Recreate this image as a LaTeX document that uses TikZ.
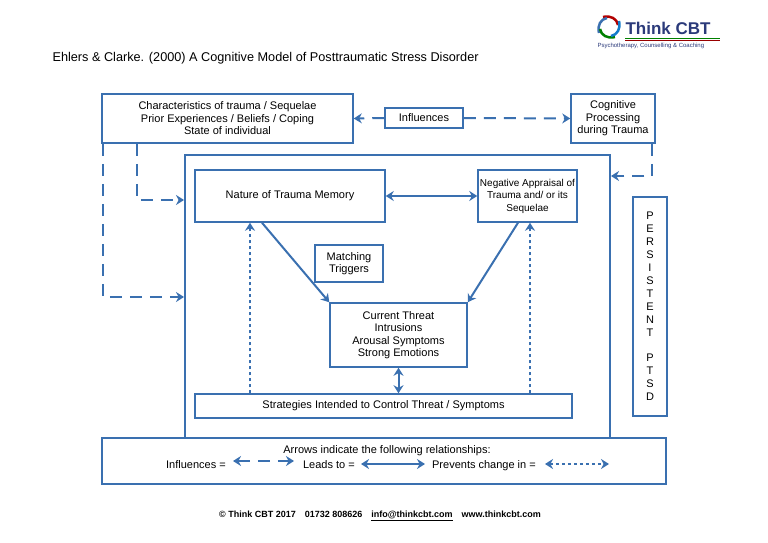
\documentclass[tikz,border=0pt]{standalone}
\usepackage{fontspec}
\setmainfont{Liberation Sans}
\usetikzlibrary{arrows.meta}
\definecolor{bl}{HTML}{3A70B0}
\definecolor{navy}{HTML}{2B3A7A}
\begin{document}
\begin{tikzpicture}[x=1pt,y=-1pt,
 box/.style={draw=bl,line width=1.5pt,align=center,font=\fontsize{11}{12.5}\selectfont,inner sep=0},
 ar/.style={bl,line width=2pt,-{Stealth[length=8pt,width=10pt]}},
 dar/.style={bl,line width=2pt,{Stealth[length=8pt,width=10pt]}-{Stealth[length=8pt,width=10pt]}},
 inf/.style={ar,dash pattern=on 12pt off 8pt},
 prev/.style={ar,line width=1.6pt,dash pattern=on 3.5pt off 2.5pt},
 lg/.style={font=\fontsize{11}{12}\selectfont,anchor=base east,inner sep=0}]
\useasboundingbox (0,0) rectangle (768,543);
\node[anchor=west,font=\fontsize{12.7}{14}\selectfont] (title) at (49,58) {Ehlers \& Clarke. (2000) A Cognitive Model of Posttraumatic Stress Disorder};
% logo
\foreach \a/\c in {0/red!70!black,90/bl,180/green!50!black,270/cyan!60!blue}{
 \draw[\c,line width=2.5pt,rotate around={\a:(609,27)}] (603,17) .. controls (611,15) and (617,19) .. (618,25);}
\node[anchor=west,font=\bfseries\fontsize{17}{18}\selectfont,text=navy] (logo) at (622,28) {Think CBT};
\draw[green!50!black,line width=0.8pt] (625,38.5)--(720,38.5);
\draw[red!60!black,line width=0.6pt] (625,40.2)--(720,40.2);
\node[anchor=west,font=\fontsize{6}{7}\selectfont,text=navy] (sub) at (594,45.5) {Psychotherapy, Counselling \& Coaching};
% boxes
\node[box,minimum width=251pt,minimum height=49pt] (A) at (227.5,118.5) {Characteristics of trauma / Sequelae\\Prior Experiences / Beliefs / Coping\\State of individual};
\node[box,minimum width=78pt,minimum height=20pt] (inf) at (424,118) {Influences};
\node[box,minimum width=84pt,minimum height=49pt] (cog) at (613,118.5) {Cognitive\\Processing\\during Trauma};
\draw[bl,line width=1.5pt] (185,438)--(185,155)--(610,155)--(610,438);
\coordinate (fl1) at (184,200); \coordinate (fl2) at (184,297); \coordinate (fr) at (611,176);
\node[box,minimum width=190pt,minimum height=52pt] (nat) at (290,196) {Nature of Trauma Memory};
\node[box,minimum width=99pt,minimum height=52pt,font=\fontsize{10}{12.5}\selectfont] (neg) at (527.5,196) {Negative Appraisal of\\Trauma and/ or its\\Sequelae};
\node[box,minimum width=68pt,minimum height=37pt] (mat) at (349,263.5) {Matching\\Triggers};
\node[box,minimum width=137pt,minimum height=64pt] (cur) at (398.5,335) {Current Threat\\Intrusions\\Arousal Symptoms\\Strong Emotions};
\node[box,minimum width=377pt,minimum height=24pt] (str) at (383.5,406) {Strategies Intended to Control Threat / Symptoms};
\node[box,minimum width=34pt,minimum height=219pt,font=\fontsize{11}{12.9}\selectfont] (pers) at (650,306.5) {P\\E\\R\\S\\I\\S\\T\\E\\N\\T\\ \\P\\T\\S\\D};
\node[box,minimum width=564pt,minimum height=46pt] (leg) at (384,461) {};
\node[font=\fontsize{11}{12}\selectfont] (lt) at (387,451) {Arrows indicate the following relationships:};
\node[lg] (l1) at (226,468) {Influences =};
\node[lg] (l2) at (355,468) {Leads to =};
\node[lg] (l3) at (536,468) {Prevents change in =};
\coordinate (a1) at (233,461); \coordinate (b1) at (294,461);
\coordinate (a2) at (361,464); \coordinate (b2) at (425,464);
\coordinate (a3) at (545,464); \coordinate (b3) at (609,464);
\draw[inf,{Stealth[length=8pt,width=10pt]}-{Stealth[length=8pt,width=10pt]}] (a1)--(b1);
\draw[dar] (a2)--(b2);
\draw[prev,{Stealth[length=8pt,width=10pt]}-{Stealth[length=8pt,width=10pt]}] (a3)--(b3);
\node[font=\bfseries\fontsize{9}{10}\selectfont] (foot) at (380,516) {\textcopyright{} Think CBT 2017\quad 01732 808626\quad \underline{info@thinkcbt.com}\quad www.thinkcbt.com};
% connectors
\draw[inf] (inf.west)--(A.east);
\draw[inf] (inf.east)--(cog.west);
\draw[inf] (A.south -| 137,0)|-(fl1);
\draw[inf] (A.south -| 103,0)|-(fl2);
\draw[inf] (cog.south -| 652,0)|-(fr);
\draw[dar] (nat.east)--(neg.west);
\draw[ar] (nat.south -| 262,0)--(cur.north west);
\draw[ar] (neg.south -| 518,0)--(cur.north east);
\draw[dar] (cur.south)--(str.north -| cur.south);
\draw[prev] (str.north -| 250,0)--(nat.south -| 250,0);
\draw[prev] (str.north -| 530,0)--(neg.south -| 530,0);
\end{tikzpicture}
\end{document}
